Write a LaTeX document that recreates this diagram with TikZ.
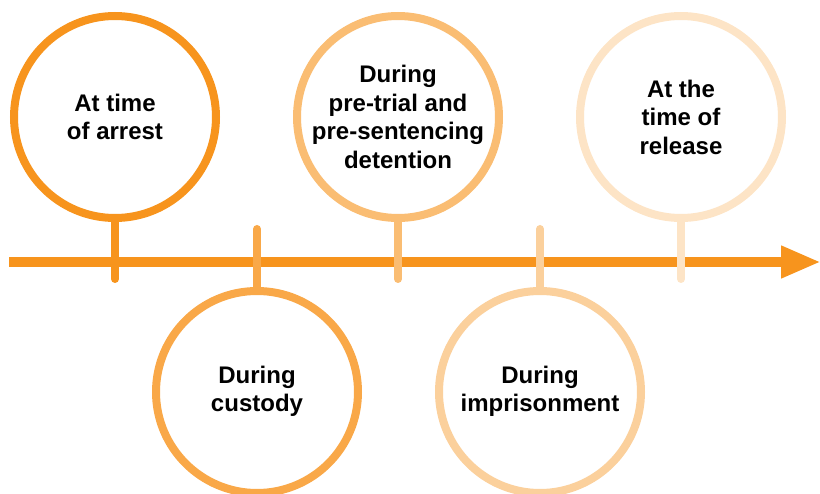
\documentclass[tikz,border=0pt]{standalone}
\usepackage{fontspec}
\setmainfont{Liberation Sans}
\usetikzlibrary{arrows.meta}
\definecolor{base}{HTML}{F7941D}
\colorlet{cA}{base}
\colorlet{cB}{base!81}
\colorlet{cC}{base!62}
\colorlet{cD}{base!44}
\colorlet{cE}{base!25}
\begin{document}
\begin{tikzpicture}[x=1pt,y=-1pt,
  stage/.style={circle, draw=#1, fill=white, line width=8pt, minimum size=202pt, inner sep=0pt, align=center,
    font=\bfseries\fontsize{24}{28.5}\selectfont, text=black},
  stem/.style={draw=#1, line width=8pt, line cap=round},
  axisline/.style={draw=base, line width=10pt, -{Triangle[length=40pt,width=30pt]}}
]
\useasboundingbox (0,0) rectangle (820,494);
% axis
\coordinate (s) at (9,262);
\coordinate (e) at (821,262);
\draw[axisline] (s) -- (e);
% stages
\node[stage=cA] (n1) at (115,117) {At time\\of arrest};
\node[stage=cB] (n2) at (257,392) {\raisebox{-2pt}{\begin{tabular}{@{}c@{}}During\\custody\end{tabular}}};
\node[stage=cC] (n3) at (398,117) {During\\pre-trial and\\pre-sentencing\\detention};
\node[stage=cD] (n4) at (540,392) {\raisebox{-2pt}{\begin{tabular}{@{}c@{}}During\\imprisonment\end{tabular}}};
\node[stage=cE] (n5) at (681,117) {At the\\time of\\release};
% stem ends
\coordinate (t1) at (115,279);
\coordinate (t2) at (257,229);
\coordinate (t3) at (398,279);
\coordinate (t4) at (540,229);
\coordinate (t5) at (681,279);
\draw[stem=cA] (n1.south) -- (t1);
\draw[stem=cB] (n2.north) -- (t2);
\draw[stem=cC] (n3.south) -- (t3);
\draw[stem=cD] (n4.north) -- (t4);
\draw[stem=cE] (n5.south) -- (t5);
\end{tikzpicture}
\end{document}
